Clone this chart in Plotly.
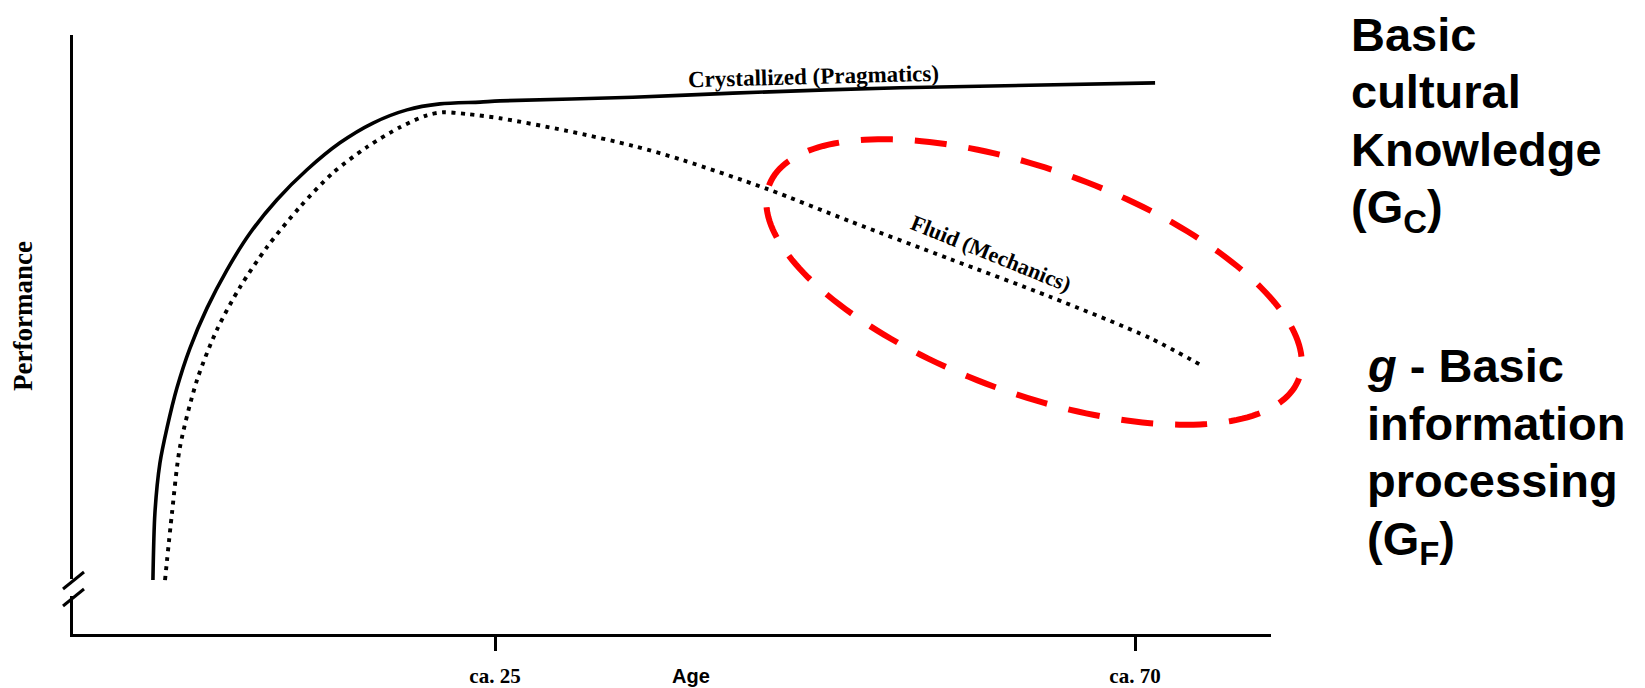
import numpy as np
import plotly.graph_objects as go

# ---------------- data ----------------
age_crystallized = [0.95, 1.09, 1.44, 1.94, 2.64, 3.55, 4.75, 6.16, 7.77, 9.67, 11.78,
                    14.10, 16.42, 18.81, 21.13, 23.95, 25.35, 34.70, 41.73, 53.48, 71.41]
perf_crystallized = [9.0, 20.2, 28.5, 34.4, 41.1, 47.7, 54.4, 60.8, 66.9, 72.5, 77.5,
                     82.0, 85.3, 87.5, 88.5, 88.8, 89.0, 89.6, 90.3, 91.2, 92.0]

age_fluid = [1.80, 2.29, 2.85, 4.05, 5.45, 7.07, 8.97, 11.29, 13.61, 16.0, 18.32, 20.22,
             21.34, 23.03, 25.35, 30.06, 34.70, 38.22, 44.13, 49.96, 56.99, 64.02, 71.06, 74.78]
perf_fluid = [9.0, 20.2, 31.2, 42.4, 50.8, 57.9, 64.6, 71.3, 77.0, 81.3, 84.6, 86.6,
              87.1, 86.8, 86.1, 84.0, 81.5, 79.1, 74.3, 68.9, 62.6, 56.3, 49.4, 44.7]

tick_ages = [25, 70]
tick_labels = ["ca. 25", "ca. 70"]

label_crystallized = "Crystallized (Pragmatics)"
label_fluid = "Fluid (Mechanics)"
gc_lines = ["Basic", "cultural", "Knowledge", "(G<sub>C</sub>)"]
gf_lines = ["<i>g</i> - Basic", "information", "processing", "(G<sub>F</sub>)"]

# ---------------- layout geometry ----------------
# the page body has an 8px default margin, so the figure starts at (8, 8)
OFF = 8
W, H = 1645, 688
PLOT_L, PLOT_R, PLOT_T, PLOT_B = 73, 1271, 35, 634        # page pixels
ML, MT = PLOT_L - OFF, PLOT_T - OFF
MR, MB = W - (PLOT_R - OFF), H - (PLOT_B - OFF)
PW, PH = PLOT_R - PLOT_L, PLOT_B - PLOT_T


def paper(px, py):
    return (px - PLOT_L) / PW, (PLOT_B - py) / PH


SERIF = "Liberation Serif, Times New Roman, serif"
SANS = "Liberation Sans, Arial, sans-serif"

fig = go.Figure()
fig.add_trace(go.Scatter(x=age_crystallized, y=perf_crystallized, mode="lines",
                         line=dict(color="black", width=3.6, shape="spline", smoothing=0.8),
                         hoverinfo="skip", showlegend=False))
fig.add_trace(go.Scatter(x=age_fluid, y=perf_fluid, mode="lines",
                         line=dict(color="black", width=3.9, dash="4px,5.5px",
                                   shape="spline", smoothing=0.8),
                         hoverinfo="skip", showlegend=False))

# ---------------- shapes ----------------
shapes = []
# red dashed tilted ellipse (page-pixel centre, semi-axes, tilt)
cx, cy, ea, eb, th = 1034, 282, 282, 112, np.deg2rad(20)
t = np.linspace(0, 2 * np.pi, 200)
ex = cx + ea * np.cos(t) * np.cos(th) - eb * np.sin(t) * np.sin(th)
ey = cy + ea * np.cos(t) * np.sin(th) + eb * np.sin(t) * np.cos(th)
pts = [paper(a, b) for a, b in zip(ex, ey)]
path = "M " + " L ".join(f"{p[0]:.5f},{p[1]:.5f}" for p in pts) + " Z"
shapes.append(dict(type="path", xref="paper", yref="paper", path=path,
                   line=dict(color="#ff0000", width=6, dash="32px,22px")))
# axis break on y axis
g0, g1 = paper(PLOT_L, 579), paper(PLOT_L, 596)
shapes.append(dict(type="rect", xref="paper", yref="paper", x0=-0.004, x1=0.004,
                   y0=g1[1], y1=g0[1], fillcolor="white", line=dict(width=0)))
for (x0, y0, x1, y1) in [(63, 589, 84, 572), (63, 606, 84, 589)]:
    a0, a1 = paper(x0, y0), paper(x1, y1)
    shapes.append(dict(type="line", xref="paper", yref="paper", x0=a0[0], y0=a0[1],
                       x1=a1[0], y1=a1[1], line=dict(color="black", width=3)))

# ---------------- annotations ----------------
ann = []
ann.append(dict(x=47.4, y=93.0, xref="x", yref="y", text=f"<b>{label_crystallized}</b>",
                xanchor="center", yanchor="middle",
                showarrow=False, textangle=-1.5, font=dict(family=SERIF, size=23, color="black")))
ann.append(dict(x=59.9, y=63.6, xref="x", yref="y", text=f"<b>{label_fluid}</b>",
                xanchor="center", yanchor="middle",
                showarrow=False, textangle=22, font=dict(family=SERIF, size=22, color="black")))
px_, py_ = paper(23, 316)
ann.append(dict(x=px_, y=py_, xref="paper", yref="paper", text="<b>Performance</b>",
                xanchor="center", yanchor="middle",
                showarrow=False, textangle=-90, font=dict(family=SERIF, size=27, color="black")))
px_, py_ = paper(691, 676)
ann.append(dict(x=px_, y=py_, xref="paper", yref="paper", text="<b>Age</b>",
                xanchor="center", yanchor="middle",
                showarrow=False, font=dict(family=SANS, size=20, color="black")))

for lines, x0, baselines in [(gc_lines, 1351, [51, 108, 166, 223]),
                             (gf_lines, 1367, [382, 440, 497, 555])]:
    for txt, bl in zip(lines, baselines):
        px_, py_ = paper(x0, bl - 43)
        ann.append(dict(x=px_, y=py_, xref="paper", yref="paper", text=f"<b>{txt}</b>",
                        showarrow=False, xanchor="left", yanchor="top", borderpad=0,
                        borderwidth=0, font=dict(family=SANS, size=47, color="black")))

fig.update_layout(
    width=W, height=H, margin=dict(l=ML, r=MR, t=MT, b=MB, autoexpand=False),
    paper_bgcolor="white", plot_bgcolor="white",
    shapes=shapes, annotations=ann, showlegend=False,
    xaxis=dict(range=[-4.67, 79.56], showgrid=False, zeroline=False, showline=True,
               automargin=False,
               linecolor="black", linewidth=3, ticks="outside", ticklen=14, tickwidth=3,
               tickcolor="black", tickvals=tick_ages, ticktext=tick_labels,
               ticklabelstandoff=7,
               tickfont=dict(family=SERIF, size=21, color="black", weight="bold")),
    yaxis=dict(range=[0, 100], showgrid=False, zeroline=False, showline=True,
               automargin=False,
               linecolor="black", linewidth=3, showticklabels=False, ticks=""),
)

fig.write_html("out.html")
